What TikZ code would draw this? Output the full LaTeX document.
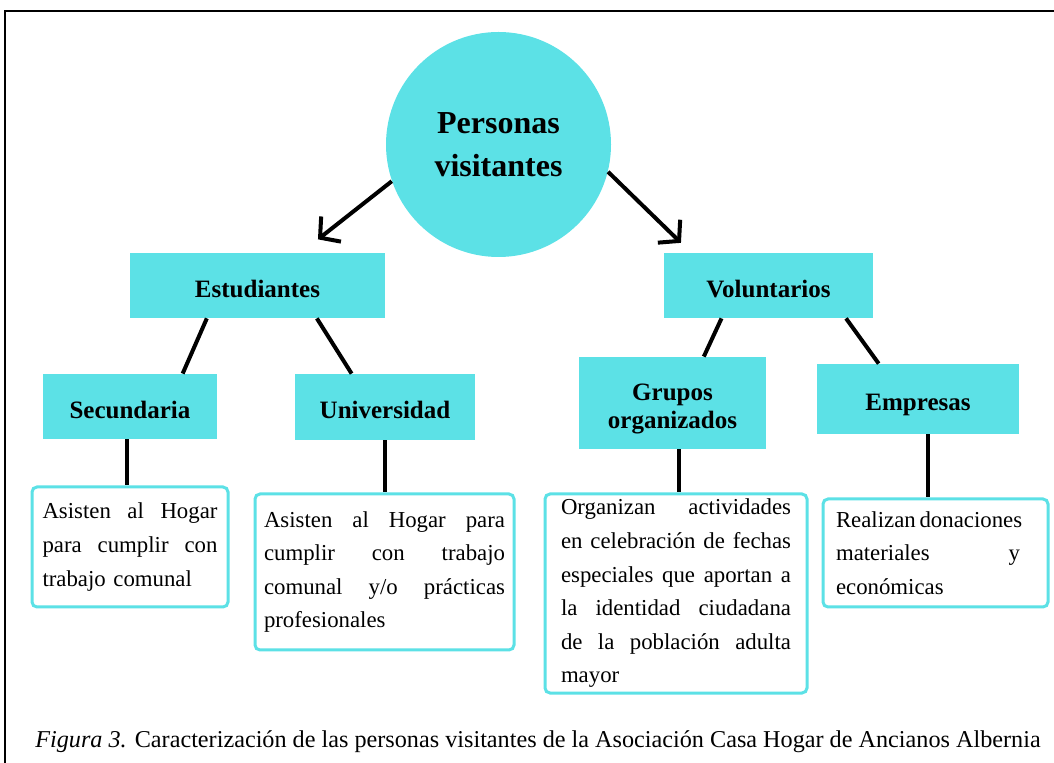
\documentclass[tikz,border=0pt]{standalone}
\usepackage{fontspec}
\setmainfont{Liberation Serif}
\usetikzlibrary{arrows.meta}
\definecolor{turq}{HTML}{5CE1E6}
\newcommand{\jl}[2][\hsize]{\makebox[#1][s]{\spaceskip=0pt\xspaceskip=0pt #2}}

\begin{document}
\begin{tikzpicture}[x=0.5pt,y=-0.5pt]
    \tikzstyle{cat}=[rectangle, fill=turq, inner sep=0pt, align=center, text height=12pt, text depth=0pt, font=\bfseries\fontsize{12.5}{14}\selectfont]
    \tikzstyle{desc}=[rectangle, draw=turq, line width=1.5pt, rounded corners=2.5pt, fill=white, inner ysep=0pt, align=left, font=\fontsize{11.4}{16.8}\selectfont]
    \tikzstyle{link}=[line width=2pt]
    \tikzstyle{arr}=[line width=2pt, -{Straight Barb[length=7pt,width=16pt]}]

    \useasboundingbox (0,0) rectangle (1054,763);
    \draw[line width=1.2pt] (1060,11) -- (5,11) -- (5,770);

    \node[circle, fill=turq, minimum size=112.5pt, inner sep=0pt, align=center, font=\bfseries\fontsize{16}{21.5}\selectfont] (pv) at (498.5,144.5) {Personas\\visitantes};

    \node[cat, minimum width=127.5pt, minimum height=32.5pt] (est) at (257.5,285.5) {Estudiantes};
    \node[cat, minimum width=104.5pt, minimum height=32.5pt] (vol) at (768.5,285.5) {Voluntarios};

    \node[cat, minimum width=87pt, minimum height=32.5pt] (sec) at (130,406.5) {Secundaria};
    \node[cat, minimum width=90pt, minimum height=33pt] (uni) at (385,407) {Universidad};
    \node[cat, minimum width=93.5pt, minimum height=46pt, text height=25.8pt, text depth=0pt] (gru) at (672.5,403) {Grupos\\organizados};
    \node[cat, minimum width=101pt, minimum height=35pt] (emp) at (918,399) {Empresas};

    \node[desc, text width=87.5pt, inner xsep=5.25pt, minimum height=60pt] (b1) at (130,547)
        {\jl{Asisten al Hogar}\\\jl{para cumplir con}\\trabajo comunal};
    \node[desc, text width=120.5pt, inner xsep=4.5pt, minimum height=78pt] (b2) at (384.5,572)
        {\jl{Asisten al Hogar para}\\\jl{cumplir con trabajo}\\\jl{comunal y/o prácticas}\\profesionales};
    \node[desc, text width=115pt, inner xsep=8pt, minimum height=99.5pt] (b3) at (676,593.5)
        {\jl{Organizan actividades}\\\jl{en celebración de fechas}\\\jl{especiales que aportan a}\\\jl{la identidad ciudadana}\\\jl{de la población adulta}\\mayor};
    \node[desc, text width=99.5pt, inner xsep=6.5pt, minimum height=54pt] (b4) at (935.5,553)
        {\jl[92pt]{Realizan donaciones}\\\jl[92pt]{materiales y}\\económicas};

    \node[font=\fontsize{12.1}{14}\selectfont] (cap) at (538,742)
        {\textit{Figura 3.} Caracterización de las personas visitantes de la Asociación Casa Hogar de Ancianos Albernia};

    \draw[arr, shorten >=10.7pt] (pv.199.4) -- (est.37.4);
    \draw[arr, shorten >=7pt] (pv.346.9) -- (vol.157.5);

    \draw[link] (est.213.3) -- (sec.32);
    \draw[link] (est.331.8) -- (uni.135);
    \draw[link] (vol.215) -- (gru.56.5);
    \draw[link] (vol.337.8) -- (emp.138.8);

    \draw[link] (sec.-95) -- (sec.-95 |- b1.north);
    \draw[link] (uni.south) -- (uni.south |- b2.north);
    \draw[link] (gru.-82) -- (gru.-82 |- b3.north);
    \draw[link] (emp.-75.6) -- (emp.-75.6 |- b4.north);
\end{tikzpicture}
\end{document}
